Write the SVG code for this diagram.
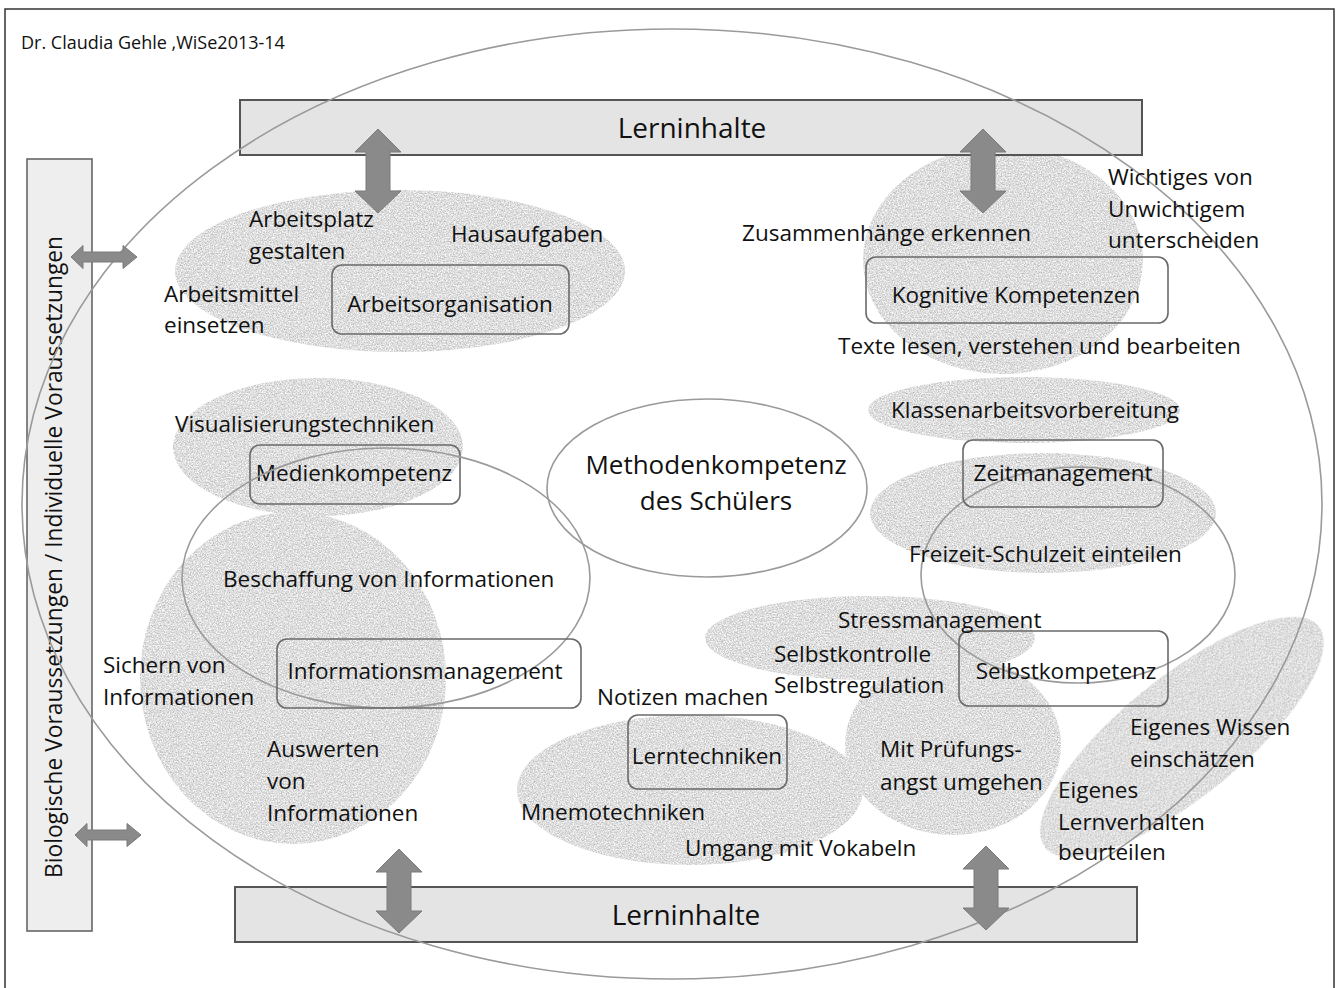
<svg xmlns="http://www.w3.org/2000/svg" width="1336" height="988" viewBox="0 0 1336 988">
<style>
text{font-family:"Open Sans","Liberation Sans",sans-serif;fill:#111;font-size:22.5px}
.c{text-anchor:middle}
.blob{fill:#ddd;filter:url(#grain)}
.ring{fill:none;stroke:#9a9a9a;stroke-width:1.6}
.box{fill:none;stroke:#6a6a6a;stroke-width:1.6}
.bar{fill:#e4e4e4;stroke:#555;stroke-width:2}
.arr{fill:#8a8a8a;stroke:#7a7a7a;stroke-width:1}
</style>
<defs>
<filter id="grain" x="-5%" y="-5%" width="110%" height="110%" color-interpolation-filters="sRGB">
<feTurbulence type="fractalNoise" baseFrequency="0.75" numOctaves="2" seed="7" result="noise"/>
<feColorMatrix in="noise" type="matrix" values="0.5 0 0 0 0.62  0.5 0 0 0 0.62  0.5 0 0 0 0.62  0 0 0 0 1" result="g"/>
<feComposite in="g" in2="SourceGraphic" operator="in"/>
</filter>
<path id="varr" d="M0,0 L23,23 L12,23 L12,62 L23,62 L0,84 L-23,62 L-12,62 L-12,23 L-23,23 Z"/>
<path id="harr" d="M0,0 L12,-11.5 L12,-5 L52,-5 L52,-11.5 L66,0 L52,11.5 L52,5 L12,5 L12,11.5 Z"/>
</defs>
<rect x="5" y="9" width="1329" height="990" fill="#fff" stroke="#333" stroke-width="1.5"/>
<text x="21" y="49" style="font-size:18px">Dr. Claudia Gehle ,WiSe2013-14</text>

<g id="blobs">
<ellipse class="blob" cx="400" cy="271" rx="225" ry="81"/>
<ellipse class="blob" cx="1003" cy="260" rx="140" ry="114"/>
<ellipse class="blob" cx="318" cy="447" rx="145" ry="69"/>
<ellipse class="blob" cx="293" cy="678" rx="153" ry="166"/>
<ellipse class="blob" cx="1024" cy="410" rx="156" ry="33"/>
<ellipse class="blob" cx="1043" cy="513" rx="173" ry="60"/>
<ellipse class="blob" cx="870" cy="638" rx="165" ry="42"/>
<ellipse class="blob" cx="953" cy="745" rx="108" ry="90"/>
<ellipse class="blob" cx="690" cy="790" rx="173" ry="75"/>
<ellipse class="blob" cx="1182" cy="737" rx="176" ry="60" transform="rotate(-39 1182 737)"/>
</g>

<g id="lerninhalte-top"><rect class="bar" x="240" y="100" width="902" height="55"/><text class="c" x="692" y="138" style="font-size:28px">Lerninhalte</text></g>
<g id="lerninhalte-bottom"><rect class="bar" x="235" y="887" width="902" height="55"/><text class="c" x="686" y="925" style="font-size:28px">Lerninhalte</text></g>
<g id="voraussetzungen"><rect x="27" y="159" width="65" height="772" fill="#eeeeee" stroke="#666" stroke-width="1.6"/><text class="c" transform="translate(62 557) rotate(-90)" style="font-size:22.8px">Biologische Voraussetzungen / Individuelle Voraussetzungen</text></g>

<ellipse id="outer" class="ring" cx="672" cy="504" rx="650" ry="475"/>

<g id="methodenkompetenz"><ellipse class="ring" cx="707" cy="488" rx="160" ry="89"/><text class="c" x="716" y="474" style="font-size:26px">Methodenkompetenz</text><text class="c" x="716" y="510" style="font-size:26px">des Schülers</text></g>

<g id="arbeitsorganisation"><rect class="box" x="332" y="265" width="237" height="69" rx="10"/><text class="c" x="450" y="312">Arbeitsorganisation</text>
<text x="249" y="227">Arbeitsplatz</text><text x="249" y="259">gestalten</text><text x="451" y="242">Hausaufgaben</text><text x="164" y="302">Arbeitsmittel</text><text x="164" y="333">einsetzen</text></g>

<g id="kognitive"><rect class="box" x="866" y="257" width="302" height="66" rx="10"/><text class="c" x="1016" y="303">Kognitive Kompetenzen</text>
<text x="742" y="241">Zusammenhänge erkennen</text><text x="1108" y="185">Wichtiges von</text><text x="1108" y="217">Unwichtigem</text><text x="1108" y="248">unterscheiden</text><text x="838" y="354">Texte lesen, verstehen und bearbeiten</text></g>

<g id="medienkompetenz"><rect class="box" x="250" y="445" width="210" height="59" rx="10"/><text class="c" x="354" y="481">Medienkompetenz</text><text x="175" y="432">Visualisierungstechniken</text></g>

<g id="informationsmanagement"><ellipse class="ring" cx="386" cy="578" rx="204" ry="130"/><text x="223" y="587">Beschaffung von Informationen</text>
<rect class="box" x="277" y="639" width="304" height="69" rx="10"/><text class="c" x="425" y="679">Informationsmanagement</text>
<text x="103" y="673">Sichern von</text><text x="103" y="705">Informationen</text><text x="267" y="757">Auswerten</text><text x="267" y="789">von</text><text x="267" y="821">Informationen</text></g>

<g id="zeitmanagement"><ellipse class="ring" cx="1078" cy="575" rx="157" ry="108"/><rect class="box" x="963" y="440" width="200" height="67" rx="10"/><text class="c" x="1063" y="481">Zeitmanagement</text>
<text x="891" y="418">Klassenarbeitsvorbereitung</text><text x="909" y="562">Freizeit-Schulzeit einteilen</text></g>

<g id="selbstkompetenz"><rect class="box" x="959" y="631" width="209" height="75" rx="10"/><text class="c" x="1066" y="679">Selbstkompetenz</text>
<text x="838" y="628">Stressmanagement</text><text x="774" y="662">Selbstkontrolle</text><text x="774" y="693">Selbstregulation</text>
<text x="880" y="757">Mit Prüfungs-</text><text x="880" y="790">angst umgehen</text>
<text x="1130" y="735">Eigenes Wissen</text><text x="1130" y="767">einschätzen</text><text x="1058" y="798">Eigenes</text><text x="1058" y="830">Lernverhalten</text><text x="1058" y="860">beurteilen</text></g>

<g id="lerntechniken"><rect class="box" x="628" y="715" width="159" height="74" rx="10"/><text class="c" x="707" y="764">Lerntechniken</text>
<text x="597" y="705">Notizen machen</text><text x="521" y="820">Mnemotechniken</text><text x="685" y="856">Umgang mit Vokabeln</text></g>

<g id="connectors">
<use href="#varr" class="arr" x="378" y="129"/>
<use href="#varr" class="arr" x="983" y="129"/>
<use href="#varr" class="arr" x="399" y="849"/>
<use href="#varr" class="arr" x="986" y="846"/>
<use href="#harr" class="arr" x="71" y="257"/>
<use href="#harr" class="arr" x="75" y="835"/>
</g>
</svg>
